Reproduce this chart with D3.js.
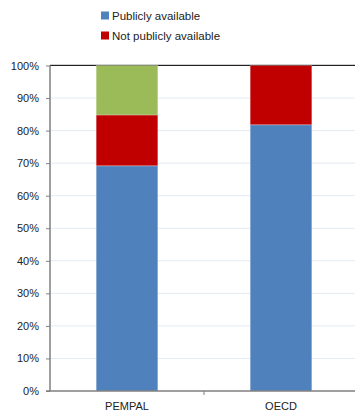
<!DOCTYPE html>
<html><head><meta charset="utf-8">
<script src="https://cdn.jsdelivr.net/npm/d3@7"></script>
<style>body{margin:0;background:#fff;}svg{display:block;font-family:"Liberation Sans",Arial,sans-serif;}</style>
</head><body>
<svg id="c" width="355" height="412"></svg>
<script>
const categories = ["PEMPAL", "OECD"];
const publiclyAvailable = [69.2, 81.8];
const notPubliclyAvailable = [15.6, 18.2];
const other = [15.2, 0];
const yTicks = [0,10,20,30,40,50,60,70,80,90,100];
const seriesNames = ["Publicly available", "Not publicly available", ""];
const colors = ["#4F81BD", "#C00000", "#9BBB59"];

const svg = d3.select("#c");
const m = {l:50, r:-3, t:65.5, b:21};
const W = 355, H = 412;
const x = d3.scaleBand().domain(categories).range([m.l, W - m.r]).paddingInner(0.6).paddingOuter(0.3);
const y = d3.scaleLinear().domain([0,100]).range([H - m.b, m.t]);

// gridlines
svg.append("g").selectAll("line").data(yTicks.filter(d=>d>0 && d<100)).join("line")
  .attr("x1", m.l).attr("x2", W).attr("y1", d=>y(d)).attr("y2", d=>y(d))
  .attr("stroke", "#E3EAF3").attr("stroke-width", 1);
// top border
svg.append("line").attr("x1", m.l).attr("x2", W).attr("y1", y(100)-1).attr("y2", y(100)-1).attr("stroke","#d0d0d0");
svg.append("line").attr("x1", m.l).attr("x2", W).attr("y1", y(100)).attr("y2", y(100)).attr("stroke","#222");

const data = categories.map((c,i)=>({cat:c, vals:[publiclyAvailable[i], notPubliclyAvailable[i], other[i]]}));
const stacked = d3.stack().keys([0,1,2]).value((d,k)=>d.vals[k])(data);
svg.append("g").selectAll("g").data(stacked).join("g")
  .attr("fill", (d,i)=>colors[i])
  .selectAll("rect").data(d=>d.filter(p=>p[1]-p[0]>0)).join("rect")
  .attr("x", d=>x(d.data.cat)).attr("width", x.bandwidth())
  .attr("y", d=>y(d[1])).attr("height", d=>y(d[0])-y(d[1]))
  .attr("stroke", "rgba(255,255,255,0.25)").attr("stroke-width", 1);

// y axis
const ya = d3.axisLeft(y).tickValues(yTicks).tickFormat(d=>d+"%").tickSize(4).tickPadding(7);
const gy = svg.append("g").attr("transform", `translate(${m.l},0)`).call(ya);
gy.select(".domain").attr("stroke","#7f7f7f").attr("stroke-width",1.5).attr("d", `M0,${y(0)}V${y(100)}`);
gy.selectAll(".tick line").attr("stroke","#7f7f7f");
gy.selectAll("text").attr("font-size", 11).attr("fill","#222");

// x axis
const gx = svg.append("g").attr("transform", `translate(0,${y(0)})`);
gx.append("line").attr("x1", m.l-4).attr("x2", W).attr("y1",0).attr("y2",0).attr("stroke","#7f7f7f").attr("stroke-width",1.5);
const mid = (x(categories[0]) + x.bandwidth() + x(categories[1]))/2;
gx.append("line").attr("x1", mid).attr("x2", mid).attr("y1",0).attr("y2",4).attr("stroke","#7f7f7f");
gx.selectAll("text").data(categories).join("text")
  .attr("x", d=>x(d)+x.bandwidth()/2).attr("y", 19).attr("text-anchor","middle")
  .attr("font-size", 11).attr("fill","#222").text(d=>d);

// legend
const lg = svg.append("g");
[0,1].forEach(i=>{
  lg.append("rect").attr("x",101).attr("y", 11.5 + i*20).attr("width",8).attr("height",8).attr("fill",colors[i]);
  lg.append("text").attr("x",112).attr("y", 19.5 + i*20).attr("font-size", 11.5).attr("fill","#222").text(seriesNames[i]);
});
</script>
</body></html>
